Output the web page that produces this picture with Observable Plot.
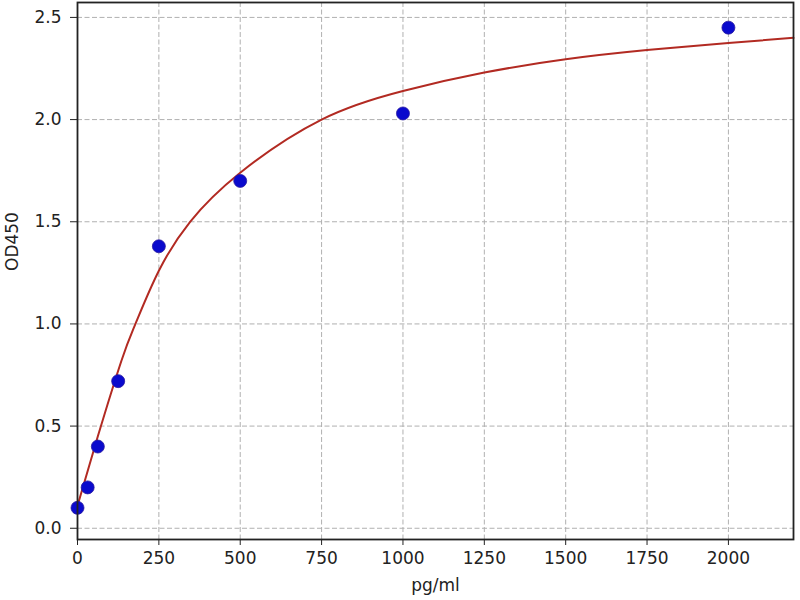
<!DOCTYPE html>
<html>
<head>
<meta charset="utf-8">
<script src="https://cdn.jsdelivr.net/npm/d3@7"></script>
<script src="https://cdn.jsdelivr.net/npm/@observablehq/plot@0.6"></script>
<style>
  html, body { margin: 0; padding: 0; background: white; }
  #chart svg { display: block; background: linear-gradient(to right, white 5px, #f2f2f2 5px, #f2f2f2 795px, white 795px); }
</style>
</head>
<body>
<div id="chart"></div>
<script>
// Standard points
const concentration = [0, 31.25, 62.5, 125, 250, 500, 1000, 2000];
const od450 = [0.10, 0.20, 0.40, 0.72, 1.38, 1.70, 2.03, 2.45];

// Fitted curve
const curveX = [0, 62.5, 135, 178, 250, 346, 500, 750, 1000, 1250, 1500, 1750, 2000, 2200];
const curveY = [0.11, 0.45, 0.82, 1.00, 1.26, 1.50, 1.74, 2.00, 2.14, 2.23, 2.295, 2.34, 2.375, 2.40];

const xTicks = [0, 250, 500, 750, 1000, 1250, 1500, 1750, 2000];
const yTicks = [0.0, 0.5, 1.0, 1.5, 2.0, 2.5];

const points = concentration.map((c, i) => ({x: c, y: od450[i]}));
const curve = curveX.map((c, i) => ({x: c, y: curveY[i]}));

const font = "'DejaVu Sans', sans-serif";
const textColor = "#222";

const chart = Plot.plot({
  width: 800,
  height: 600,
  marginLeft: 77,
  marginRight: 7,
  marginTop: 2,
  marginBottom: 61,
  style: {fontFamily: font, fontSize: "17px", color: textColor, background: "transparent"},
  x: {domain: [0, 2200]},
  y: {domain: [-0.055, 2.573]},
  marks: [
    Plot.frame({fill: "white", stroke: "none"}),
    Plot.gridX(xTicks, {stroke: "#b0b0b0", strokeOpacity: 1, strokeWidth: 1, strokeDasharray: "5,2.5"}),
    Plot.gridY(yTicks, {stroke: "#b0b0b0", strokeOpacity: 1, strokeWidth: 1, strokeDasharray: "5,2.5"}),
    Plot.line(curve, {x: "x", y: "y", stroke: "#b22a22", strokeWidth: 2, curve: "natural"}),
    Plot.dot(points, {x: "x", y: "y", r: 6.5, fill: "#0a0acd", stroke: "#2a1aa0", strokeWidth: 0.8}),
    Plot.frame({stroke: "#222", strokeWidth: 1.8}),
    Plot.axisX(xTicks, {tickSize: 6, tickPadding: 6, tickFormat: d => String(d), label: null, fontSize: 17, stroke: "#222", fill: textColor}),
    Plot.axisY(yTicks, {tickSize: 7, tickPadding: 9, tickFormat: d => d.toFixed(1), label: null, fontSize: 17, stroke: "#222", fill: textColor}),
    Plot.text(["pg/ml"], {frameAnchor: "bottom", dy: 51, fontSize: 17, fill: textColor}),
    Plot.text(["OD450"], {frameAnchor: "left", dx: -65, rotate: -90, fontSize: 17, fill: textColor})
  ]
});
document.getElementById("chart").appendChild(chart);
</script>
</body>
</html>
